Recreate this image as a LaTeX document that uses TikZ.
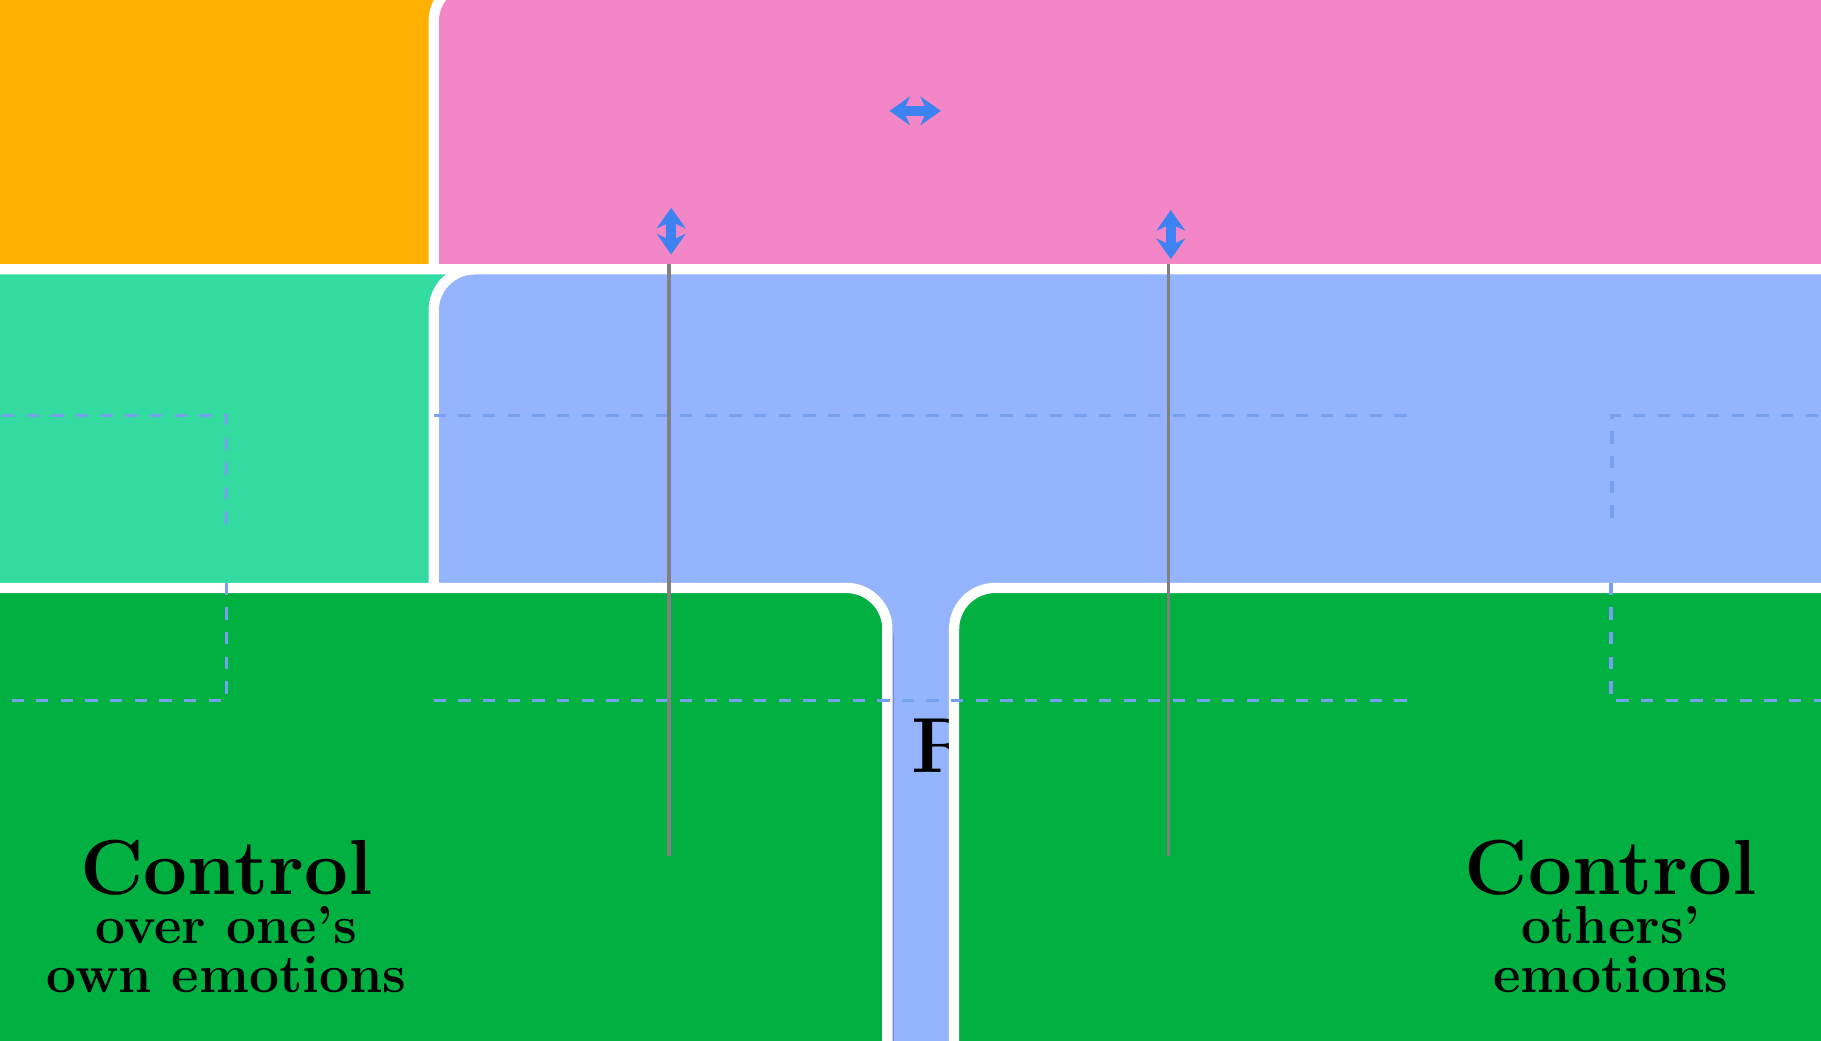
\documentclass[tikz,border=0pt]{standalone}
\usetikzlibrary{arrows.meta}
\begin{document}
\begin{tikzpicture}[x=0.01cm,y=-0.01cm,
 myshad/.style={preaction={fill=black,opacity=0.3,transform canvas={xshift=1.5pt,yshift=-2pt}}},
 mybox/.style={rounded corners=10pt,draw=white,line width=2.5pt,align=center,inner sep=0pt,myshad,font=\bfseries},
 mydsh/.style={dashed,draw={rgb,255:red,120;green,160;blue,240},line width=0.8pt},
 mysol/.style={draw=gray,line width=0.8pt},
 mydbl/.style={{Stealth[length=5pt,width=7pt]}-{Stealth[length=5pt,width=7pt]},draw={rgb,255:red,60;green,130;blue,240},line width=2.5pt},
 mymain/.style={font=\fontsize{19}{26}\selectfont\bfseries}]
\useasboundingbox (0,0) rectangle (1560,891);
\definecolor{cy}{RGB}{0,178,240}\definecolor{rd}{RGB}{255,28,92}
\definecolor{org}{RGB}{255,176,0}\definecolor{pk}{RGB}{243,134,198}
\definecolor{tq}{RGB}{51,219,160}\definecolor{lb}{RGB}{148,180,255}
\definecolor{gn}{RGB}{0,176,64}
\newcommand\bigt[1]{{\fontsize{19}{24}\selectfont #1}}
\newcommand\subt[1]{{\fontsize{13}{19}\selectfont #1}}
\node[mybox,fill=cy,minimum width=322,minimum height=156] (ao) at (194,170)
 {\bigt{Awareness}\\\subt{of one's own}\\\subt{our emotions}};
\node[mybox,fill=cy,minimum width=323,minimum height=157] (at) at (1381,163)
 {\bigt{Awareness}\\\subt{of others'}\\\subt{emotions}};
\node[rectangle,fill=rd,draw={rgb,255:red,100;green,40;blue,30},line width=1pt,minimum width=323,minimum height=132,align=center,font=\bfseries] (intra) at (576,91)
 {\bigt{Intrapersonal}\\\subt{Meta-skills}};
\node[rectangle,fill=rd,draw=white,line width=2.5pt,myshad,minimum width=330,minimum height=135,align=center,font=\bfseries] (inter) at (993,95)
 {\bigt{Interpersonal}\\\subt{Meta-skills}};
\node[mybox,fill=org,minimum width=357,minimum height=212,mymain] (esa) at (573,356) {Emotional\\Self-\\Awareness};
\node[mybox,fill=pk,minimum width=358,minimum height=212,mymain] (emp) at (1001,356) {Empathy,\\Social\\Awareness};
\node[mybox,fill=tq,minimum width=357,minimum height=210,mymain] (reg) at (573,600) {Emotional\\Regulation};
\node[mybox,fill=lb,minimum width=358,minimum height=210,mymain] (pos) at (1001,600) {Positive\\Relationships};
\node[mybox,fill=gn,minimum width=322,minimum height=160] (co) at (194,785)
 {\bigt{Control}\\\subt{over one's}\\\subt{own emotions}};
\node[mybox,fill=gn,minimum width=320,minimum height=160] (ct) at (1380,785)
 {\bigt{Control}\\\subt{others'}\\\subt{emotions}};
\coordinate (h1) at (762,95); \coordinate (h2) at (806,95);
\coordinate (v1) at (575,178); \coordinate (v2) at (575,218);
\coordinate (w1) at (1003,180); \coordinate (w2) at (1003,222);
\draw[mydbl] (h1) -- (h2); \draw[mydbl] (v1) -- (v2); \draw[mydbl] (w1) -- (w2);
\draw[mydsh] (ao.south) |- (esa.west);
\draw[mydsh] (esa.east) -- (emp.west);
\draw[mydsh] (at.south) |- (emp.east);
\draw[mydsh] (co.north) |- (reg.west);
\draw[mydsh] (reg.east) -- (pos.west);
\draw[mydsh] (ct.north) |- (pos.east);
\draw[mysol] (esa.south) -- (reg.north);
\draw[mysol] (emp.south) -- (pos.north);
\end{tikzpicture}
\end{document}
